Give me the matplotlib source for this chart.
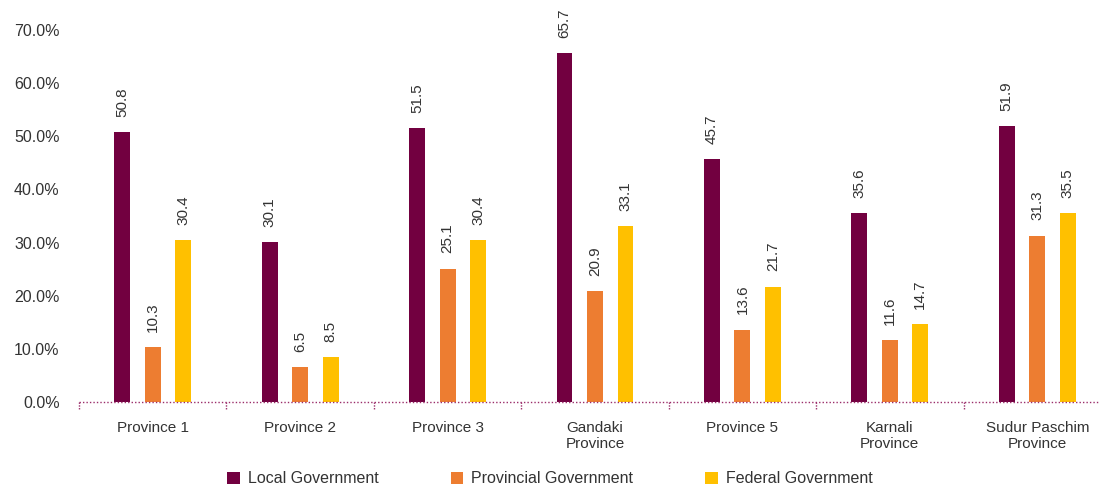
import numpy as np
import matplotlib.pyplot as plt

plt.rcParams['font.family'] = ['Liberation Sans', 'DejaVu Sans']

# Data
provinces = ["Province 1", "Province 2", "Province 3", "Gandaki\nProvince",
             "Province 5", "Karnali\nProvince", "Sudur Paschim\nProvince"]
local_gov = [50.8, 30.1, 51.5, 65.7, 45.7, 35.6, 51.9]
provincial_gov = [10.3, 6.5, 25.1, 20.9, 13.6, 11.6, 31.3]
federal_gov = [30.4, 8.5, 30.4, 33.1, 21.7, 14.7, 35.5]
series_names = ["Local Government", "Provincial Government", "Federal Government"]
colors = ["#720040", "#ED7D31", "#FFC000"]
yticks = [0, 10, 20, 30, 40, 50, 60, 70]

fig = plt.figure(figsize=(11, 4.9), dpi=100)
ax = fig.add_axes([79 / 1100, 88 / 490, 1032 / 1100, 372 / 490])

x = np.arange(len(provinces))
width = 0.108
offset = 0.207
text_color = "#333333"

for i, (vals, name, col) in enumerate(zip([local_gov, provincial_gov, federal_gov],
                                          series_names, colors)):
    pos = x + (i - 1) * offset
    ax.bar(pos, vals, width, color=col, label=name, zorder=2)
    for p, v in zip(pos, vals):
        ax.annotate(f"{v:.1f}", (p, v), xytext=(0, 11), textcoords="offset points",
                    rotation=90, ha="center", va="bottom", fontsize=11,
                    color=text_color)

ax.set_xlim(-0.5, len(provinces) - 0.5)
ax.set_ylim(0, 70)
ax.set_yticks(yticks)
ax.set_yticklabels([f"{t:.1f}%" for t in yticks], fontsize=11.5, color=text_color)
ax.set_xticks(x)
ax.set_xticklabels(provinces, fontsize=11, color=text_color, linespacing=1.15)
ax.tick_params(axis="both", length=0)
ax.tick_params(axis="y", pad=14)
ax.tick_params(axis="x", pad=14)

for s in ["top", "right", "left", "bottom"]:
    ax.spines[s].set_visible(False)

# dotted baseline and category separators
ax.axhline(0, color="#9B2D6A", linestyle=(0, (1, 1.5)), linewidth=1, zorder=3,
           clip_on=False)
for b in np.arange(len(provinces)) - 0.5:
    ax.plot([b, b], [0, -1.5], color="#9B2D6A", linestyle=(0, (1, 1)),
            linewidth=1, clip_on=False)

leg = fig.legend(loc="lower center", bbox_to_anchor=(0.5, -0.022), ncol=3,
                 frameon=False, fontsize=11.5, handlelength=0.8, handleheight=0.8,
                 handletextpad=0.5, columnspacing=4.5)
for t in leg.get_texts():
    t.set_color(text_color)

fig.savefig("out.png", dpi=100)
